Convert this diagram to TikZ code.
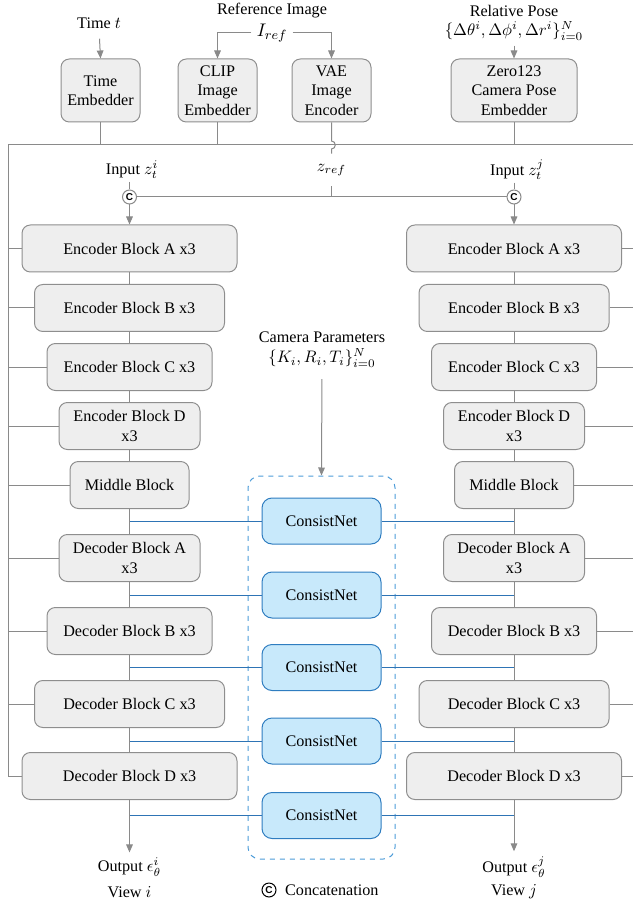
\documentclass[tikz,border=0pt]{standalone}
\usepackage{fontspec}
\setmainfont{Liberation Serif}
\setsansfont{Liberation Sans}
\usetikzlibrary{shapes, positioning, arrows.meta}

\definecolor{boxfill}{HTML}{EEEEEE}
\definecolor{boxline}{HTML}{8E8E8E}
\definecolor{linegray}{HTML}{8A8A8A}
\definecolor{netfill}{HTML}{C8E9FB}
\definecolor{netline}{HTML}{2F7DC0}
\definecolor{netlink}{HTML}{2E74B5}
\definecolor{groupline}{HTML}{4C9BD8}

\begin{document}
\begin{tikzpicture}[x=0.6pt, y=-0.6pt,
  font=\fontsize{9.7}{11.6}\selectfont,
  block/.style={draw=boxline, fill=boxfill, rounded corners=5pt, align=center,
    inner sep=2pt, minimum height=28.2pt, line width=0.6pt},
  net/.style={draw=netline, fill=netfill, rounded corners=6pt, minimum width=71.4pt,
    minimum height=27.6pt, line width=0.6pt},
  conn/.style={draw=linegray, line width=0.6pt},
  arr/.style={conn, -{Triangle[length=4.8pt, width=4pt]}},
  link/.style={draw=netlink, line width=0.6pt},
  concat/.style={circle, draw=#1, fill=white, inner sep=0pt, minimum size=8.4pt,
    line width=0.6pt, font=\fontsize{6}{6}\sffamily\bfseries},
  concat/.default=linegray,
  lbl/.style={inner sep=0pt, align=center}]

  \useasboundingbox (0,0) rectangle (633,902);

  % Inputs
  \node[lbl] (time) at (99,23) {Time $t$};
  \node[lbl] (refimg) at (272,11) {Reference Image};
  \node[lbl, inner sep=3pt, font=\fontsize{11}{13}\selectfont] (iref) at (272,33) {$I_{ref}$};
  \node[lbl] (relpose) at (514,11) {Relative Pose};
  \node[lbl] (relform) at (514,31) {$\{\Delta\theta^i, \Delta\phi^i, \Delta r^i\}_{i=0}^N$};

  % Embedders
  \node[block, minimum width=47.4pt, minimum height=37.8pt] (timeemb) at (100.5,90.5) {Time\\Embedder};
  \node[block, minimum width=47.4pt, minimum height=37.8pt] (clip) at (217.5,90.5) {CLIP\\Image\\Embedder};
  \node[block, minimum width=47.4pt, minimum height=37.8pt] (vae) at (331.5,90.5) {VAE\\Image\\Encoder};
  \node[block, minimum width=75.6pt, minimum height=37.8pt] (zero) at (514,90.5) {Zero123\\Camera Pose\\Embedder};

  \draw[arr, shorten <=6pt] (time.south) -- (timeemb.north);
  \draw[arr] (iref.west) -| (clip.north);
  \draw[arr] (iref.east) -| (vae.north);
  \draw[arr, shorten <=3pt] (relform.south) -- (zero.north);

  % Frame
  \coordinate (frameTL) at (8,145);
  \coordinate (frameTR) at (633,145);
  \coordinate (frameBL) at (8,776);
  \draw[conn] (frameTR) -- (frameTL) -- (frameBL);
  \draw[conn] (timeemb.south) -- (timeemb.south |- frameTL);
  \draw[conn] (clip.south) -- (clip.south |- frameTL);
  \draw[conn] (zero.south) -- (zero.south |- frameTL);

  % Latent inputs
  \node[lbl, inner sep=6pt] (zref) at (331.5,170) {$z_{ref}$};
  \node[lbl] (inI) at (132,170) {Input $z_t^i$};
  \node[lbl] (inJ) at (517,170) {Input $z_t^j$};
  \node[concat] (catI) at (129.5,197) {C};
  \node[concat] (catJ) at (514,197) {C};

  \draw[conn] (vae.south) -- (331.5,141) .. controls (336.5,141) and (336.5,149) .. (331.5,149) -- (zref.north);
  \draw[conn] (zref.south) -- (zref.south |- catI);
  \draw[conn] (catI) -- (catJ);
  \draw[conn, shorten <=1.5pt] (inI.south -| catI) -- (catI);
  \draw[conn, shorten <=1.5pt] (inJ.south -| catJ) -- (catJ);

  % View i
  \node[block, minimum width=129pt] (encAi) at (129.5,248.5) {Encoder Block A x3};
  \node[block, minimum width=114pt] (encBi) at (129.5,308) {Encoder Block B x3};
  \node[block, minimum width=99pt] (encCi) at (129.5,367) {Encoder Block C x3};
  \node[block, minimum width=84.6pt] (encDi) at (129.5,426) {Encoder Block D\\x3};
  \node[block, minimum width=71.4pt] (midi) at (129.5,485) {Middle Block};
  \node[block, minimum width=84.6pt] (decAi) at (129.5,558) {Decoder Block A\\x3};
  \node[block, minimum width=99pt] (decBi) at (129.5,631) {Decoder Block B x3};
  \node[block, minimum width=114pt] (decCi) at (129.5,704) {Decoder Block C x3};
  \node[block, minimum width=129pt] (decDi) at (129.5,776) {Decoder Block D x3};
  \node[lbl] (outI) at (129.5,867) {Output $\epsilon_\theta^i$};
  \node[lbl] (viewI) at (129.5,892) {View $i$};

  % View j
  \node[block, minimum width=129pt] (encAj) at (514,248.5) {Encoder Block A x3};
  \node[block, minimum width=114pt] (encBj) at (514,308) {Encoder Block B x3};
  \node[block, minimum width=99pt] (encCj) at (514,367) {Encoder Block C x3};
  \node[block, minimum width=84.6pt] (encDj) at (514,426) {Encoder Block D\\x3};
  \node[block, minimum width=71.4pt] (midj) at (514,485) {Middle Block};
  \node[block, minimum width=84.6pt] (decAj) at (514,558) {Decoder Block A\\x3};
  \node[block, minimum width=99pt] (decBj) at (514,631) {Decoder Block B x3};
  \node[block, minimum width=114pt] (decCj) at (514,704) {Decoder Block C x3};
  \node[block, minimum width=129pt] (decDj) at (514,776) {Decoder Block D x3};
  \node[lbl] (outJ) at (514,867) {Output $\epsilon_\theta^j$};
  \node[lbl] (viewJ) at (514,892) {View $j$};

  \draw[arr] (catI) -- (encAi);
  \draw[arr] (catJ) -- (encAj);
  \draw[conn] (encAi) -- (encBi) -- (encCi) -- (encDi) -- (midi) -- (decAi) -- (decBi) -- (decCi) -- (decDi);
  \draw[conn] (encAj) -- (encBj) -- (encCj) -- (encDj) -- (midj) -- (decAj) -- (decBj) -- (decCj) -- (decDj);
  \draw[arr, shorten >=3pt] (decDi) -- (outI);
  \draw[arr, shorten >=3pt] (decDj) -- (outJ);

  % Skip lines to the frame
  \draw[conn] (encAi.west) -- (encAi.west -| frameTL) (encBi.west) -- (encBi.west -| frameTL)
    (encCi.west) -- (encCi.west -| frameTL) (encDi.west) -- (encDi.west -| frameTL)
    (midi.west) -- (midi.west -| frameTL) (decAi.west) -- (decAi.west -| frameTL)
    (decBi.west) -- (decBi.west -| frameTL) (decCi.west) -- (decCi.west -| frameTL)
    (decDi.west) -- (decDi.west -| frameTL);
  \draw[conn] (encAj.east) -- (encAj.east -| frameTR) (encBj.east) -- (encBj.east -| frameTR)
    (encCj.east) -- (encCj.east -| frameTR) (encDj.east) -- (encDj.east -| frameTR)
    (midj.east) -- (midj.east -| frameTR) (decAj.east) -- (decAj.east -| frameTR)
    (decBj.east) -- (decBj.east -| frameTR) (decCj.east) -- (decCj.east -| frameTR)
    (decDj.east) -- (decDj.east -| frameTR);

  % ConsistNet
  \node[draw=groupline, dashed, rounded corners=7pt, minimum width=88.2pt, minimum height=229.8pt,
    line width=0.6pt] (cngroup) at (321.5,667.5) {};
  \node[lbl] (campar) at (322,337) {Camera Parameters};
  \node[lbl] (camform) at (322,358) {$\{K_i, R_i, T_i\}_{i=0}^N$};
  \draw[arr, shorten <=7pt] (camform.south) -- (cngroup.north);

  \node[net] (cn1) at (321.5,521) {ConsistNet};
  \node[net] (cn2) at (321.5,595) {ConsistNet};
  \node[net] (cn3) at (321.5,667.5) {ConsistNet};
  \node[net] (cn4) at (321.5,741) {ConsistNet};
  \node[net] (cn5) at (321.5,815.5) {ConsistNet};

  \draw[link] (cn1.west) -- (cn1.west -| midi) (cn1.east) -- (cn1.east -| midj);
  \draw[link] (cn2.west) -- (cn2.west -| midi) (cn2.east) -- (cn2.east -| midj);
  \draw[link] (cn3.west) -- (cn3.west -| midi) (cn3.east) -- (cn3.east -| midj);
  \draw[link] (cn4.west) -- (cn4.west -| midi) (cn4.east) -- (cn4.east -| midj);
  \draw[link] (cn5.west) -- (cn5.west -| midi) (cn5.east) -- (cn5.east -| midj);

  % Legend
  \node[concat=black] (catkey) at (269,890) {C};
  \node[lbl, right=5pt of catkey] (catkeytext) {Concatenation};

\end{tikzpicture}
\end{document}
